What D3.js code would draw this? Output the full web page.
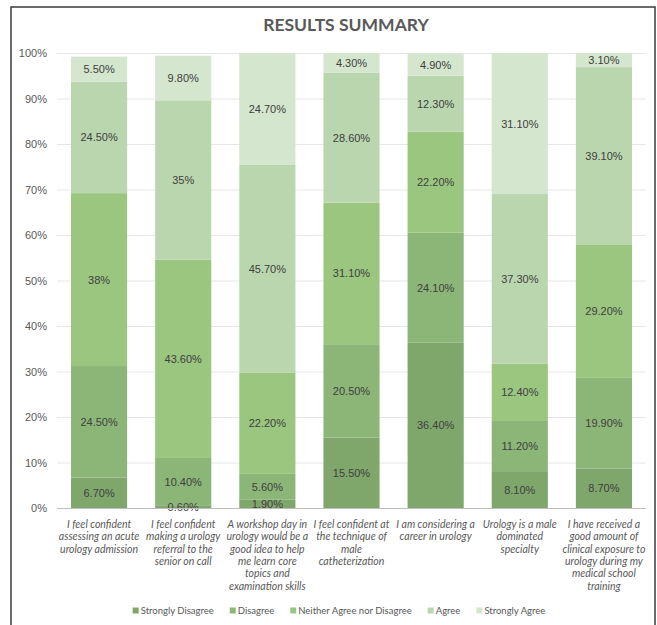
<!DOCTYPE html>
<html><head><meta charset="utf-8">
<script src="https://cdn.jsdelivr.net/npm/d3@7/dist/d3.min.js"></script>
<style>body{margin:0;background:#fff}svg{display:block}</style>
</head><body><svg id="c" width="657" height="625"></svg>
<script>
const categories = [
  "I feel confident\nassessing an acute\nurology admission",
  "I feel confident\nmaking a urology\nreferral to the\nsenior on call",
  "A workshop day in\nurology would be a\ngood idea to help\nme learn core\ntopics and\nexamination skills",
  "I feel confident at\nthe technique of\nmale\ncatheterization",
  "I am considering a\ncareer in urology",
  "Urology is a male\ndominated\nspecialty",
  "I have received a\ngood amount of\nclinical exposure to\nurology during my\nmedical school\ntraining"
];
const seriesNames = ["Strongly Disagree","Disagree","Neither Agree nor Disagree","Agree","Strongly Agree"];
const stronglyDisagree = [6.7, 0.6, 1.9, 15.5, 36.4, 8.1, 8.7];
const disagree         = [24.5, 10.4, 5.6, 20.5, 24.1, 11.2, 19.9];
const neither          = [38, 43.6, 22.2, 31.1, 22.2, 12.4, 29.2];
const agree            = [24.5, 35, 45.7, 28.6, 12.3, 37.3, 39.1];
const stronglyAgree    = [5.5, 9.8, 24.7, 4.3, 4.9, 31.1, 3.1];
const yTicks = [0,10,20,30,40,50,60,70,80,90,100];
const colors = ["#7fa76b","#8cb677","#9ac67f","#bad6ae","#d4e6cd"];

const seriesValues = [stronglyDisagree, disagree, neither, agree, stronglyAgree];
const rows = categories.map((c,i)=>{const r={cat:c}; seriesNames.forEach((s,j)=>r[s]=seriesValues[j][i]); return r;});
const stack = d3.stack().keys(seriesNames)(rows);

const svg = d3.select("#c");
const m = {l:57, r:11, t:53, b:117};
const W = 657, H = 625;
const x = d3.scaleBand().domain(categories).range([m.l, W-m.r]).paddingInner(0.333).paddingOuter(0.1665);
const y = d3.scaleLinear().domain([0,100]).range([H-m.b, m.t]);

// border
svg.append("rect").attr("x",11).attr("y",7).attr("width",644).attr("height",640)
  .attr("fill","none").attr("stroke","#3a3a3a").attr("stroke-width",1.5);

// title
svg.append("text").attr("x",346).attr("y",31).attr("text-anchor","middle")
  .attr("font-family","Lato, 'Open Sans', sans-serif").attr("font-weight","bold").attr("font-size",17.5)
  .attr("fill","#595959").text("RESULTS SUMMARY");

// grid
svg.append("g").selectAll("line").data(yTicks.filter(d=>d>0)).join("line")
  .attr("x1",m.l).attr("x2",W-m.r).attr("y1",d=>y(d)+0.5).attr("y2",d=>y(d)+0.5)
  .attr("stroke","#e6e6e6").attr("stroke-width",1);

// y axis labels
const yAxis = svg.append("g").attr("transform",`translate(${m.l},0)`)
  .call(d3.axisLeft(y).tickValues(yTicks).tickFormat(d=>d+"%").tickSize(0).tickPadding(10));
yAxis.select(".domain").remove();
yAxis.selectAll("text").attr("font-family","'Liberation Sans', Arial, sans-serif").attr("font-size",11).attr("fill","#595959");

// bars
const g = svg.append("g");
stack.forEach((s,j)=>{
  g.append("g").attr("fill",colors[j]).selectAll("rect").data(s).join("rect")
    .attr("x",d=>x(d.data.cat)).attr("width",x.bandwidth())
    .attr("y",d=>y(Math.min(d[1],100))).attr("height",d=>y(d[0])-y(Math.min(d[1],100)));
});
// labels
const fmt = v => Number.isInteger(v) ? v+"%" : v.toFixed(2)+"%";
stack.forEach((s,j)=>{
  g.append("g").selectAll("text").data(s).join("text")
    .attr("x",d=>x(d.data.cat)+x.bandwidth()/2)
    .attr("y",d=>y((d[0]+Math.min(d[1],100))/2)+4)
    .attr("text-anchor","middle")
    .attr("font-family","'Liberation Sans', Arial, sans-serif").attr("font-size",11).attr("fill","#404040")
    .text(d=>fmt(seriesValues[j][categories.indexOf(d.data.cat)]));
});

// x axis line
svg.append("line").attr("x1",m.l).attr("x2",W-m.r).attr("y1",y(0)+0.5).attr("y2",y(0)+0.5)
  .attr("stroke","#bfbfbf").attr("stroke-width",1);

// x labels
const xl = svg.append("g");
categories.forEach(c=>{
  const t = xl.append("text").attr("text-anchor","middle")
    .attr("font-family","Lato, 'Open Sans', sans-serif").attr("font-style","italic")
    .attr("font-size",10.5).attr("fill","#595959");
  c.split("\n").forEach((line,k)=>{
    t.append("tspan").attr("x",x(c)+x.bandwidth()/2).attr("y",y(0)+20+k*12.3).text(line);
  });
});

// legend
const lg = svg.append("g");
let cx = 0;
seriesNames.forEach((s,j)=>{
  const it = lg.append("g").attr("transform",`translate(${cx},0)`);
  it.append("rect").attr("x",0).attr("y",-6.5).attr("width",6).attr("height",6).attr("fill",colors[j]);
  const t = it.append("text").attr("x",8).attr("y",0).attr("font-family","Lato, 'Open Sans', sans-serif")
    .attr("font-size",9.5).attr("fill","#595959").text(s);
  cx += 8 + t.node().getComputedTextLength() + 16;
});
const total = cx - 16;
lg.attr("transform",`translate(${339 - total/2},614)`);
</script></body></html>
